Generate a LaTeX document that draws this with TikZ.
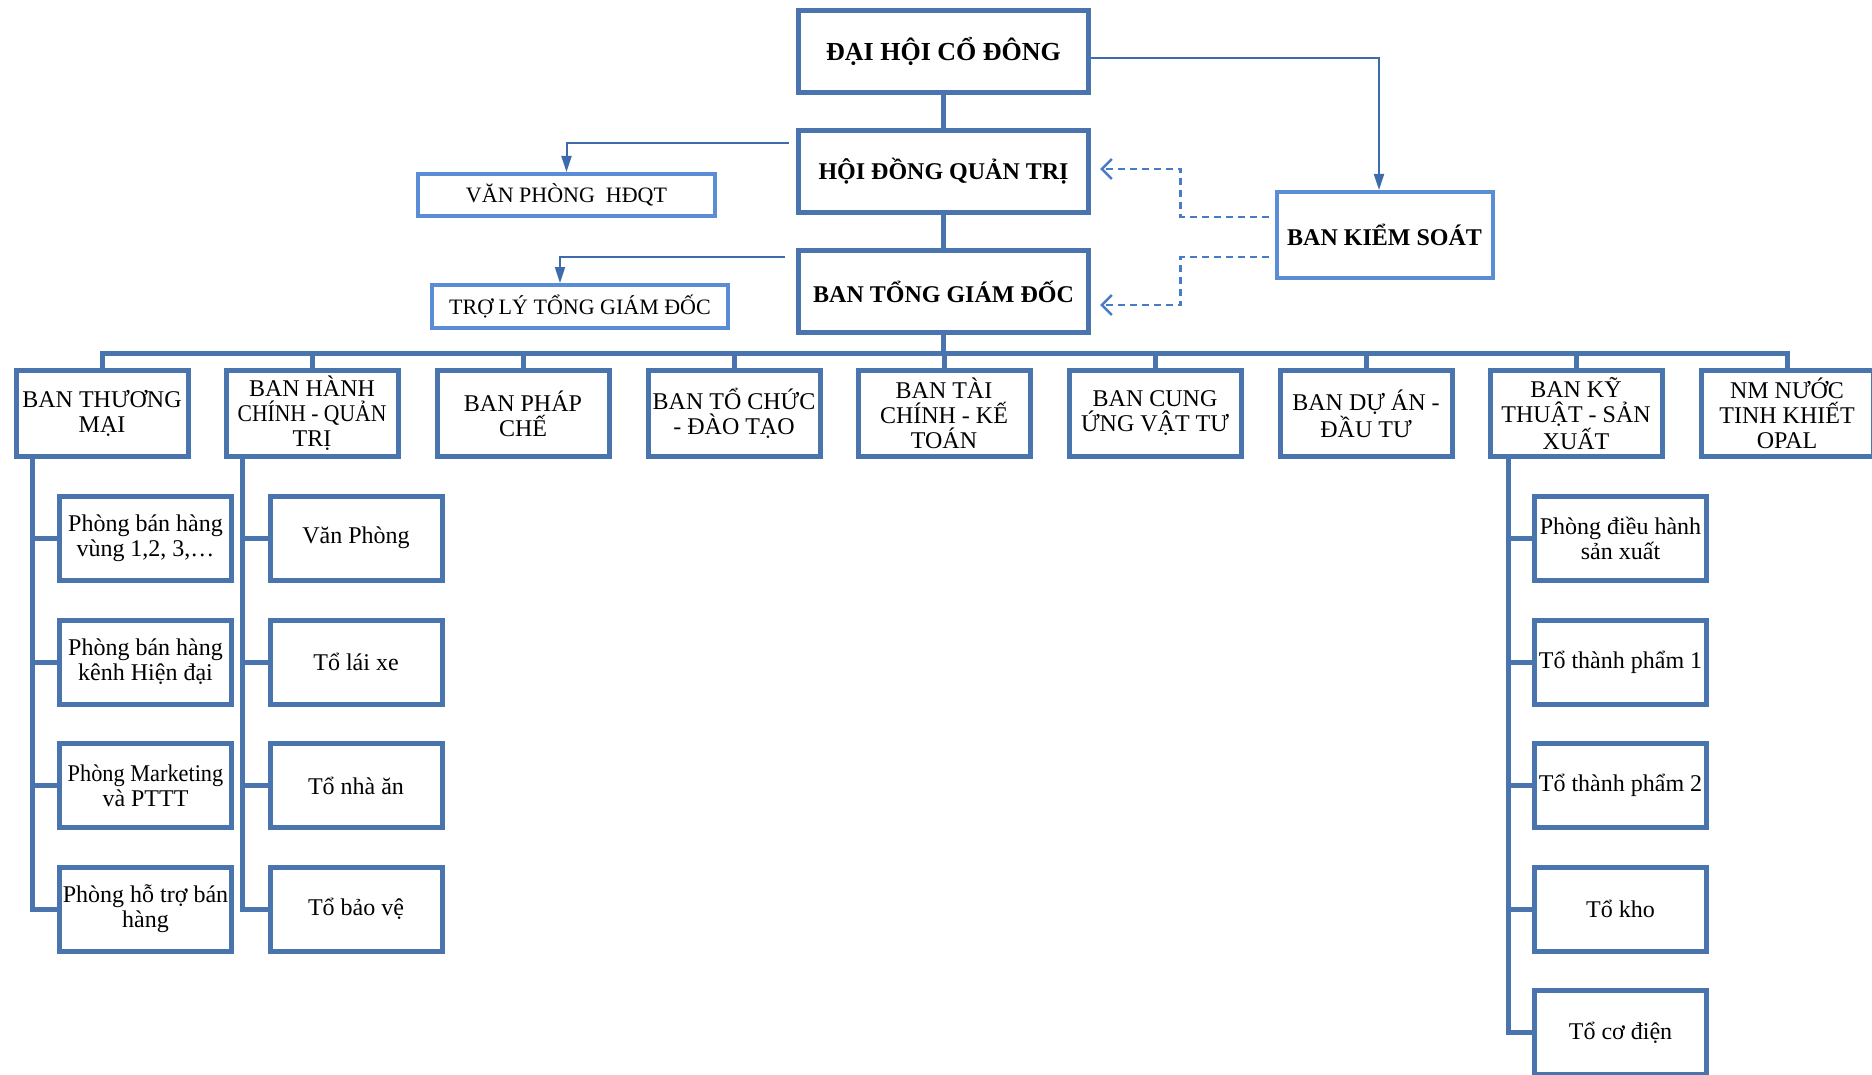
\documentclass[tikz,border=0pt]{standalone}
\usepackage{fontspec}
\setmainfont{Liberation Serif}
\usepackage{graphicx}
\usetikzlibrary{arrows.meta,calc}
\definecolor{dk}{HTML}{4A74AE}
\definecolor{lt}{HTML}{5B8DD6}
\definecolor{ar}{HTML}{3E6BAC}
\definecolor{ds}{HTML}{4A7CC6}
\begin{document}
\begin{tikzpicture}[x=0.5pt,y=-0.5pt,
 topbox/.style={draw=dk,line width=2.5pt,minimum width=145pt,minimum height=41pt,inner sep=0pt,font=\bfseries\fontsize{12}{14}\selectfont},
 litebox/.style={draw=lt,line width=2pt,inner sep=0pt,font=\fontsize{11}{13}\selectfont},
 unitbox/.style={draw=dk,line width=2.5pt,minimum width=86pt,minimum height=43pt,inner sep=0pt,align=center,font=\fontsize{12}{12.5}\selectfont},
 subbox/.style={unitbox,minimum height=42pt},
 trunk/.style={draw=dk,line width=2.5pt},
 thinarrow/.style={draw=ar,line width=1pt,-{Triangle[length=8pt,width=5pt]}},
 dasharrow/.style={draw=ds,line width=1.25pt,dash pattern=on 3.5pt off 2.5pt,-{Straight Barb[length=5pt,width=10pt]}}]
\fill[white] (0,0) rectangle (1872,1075);
\useasboundingbox (0,0) rectangle (1872,1075);
% top
\node[topbox,font=\bfseries\fontsize{13}{15}\selectfont] (dh) at (943.5,51.5) {ĐẠI HỘI CỔ ĐÔNG};
\node[topbox] (hd) at (943.5,171.5) {HỘI ĐỒNG QUẢN TRỊ};
\node[topbox] (bt) at (943.5,291.5) {BAN TỔNG GIÁM ĐỐC};
\node[litebox,minimum width=148.5pt,minimum height=21pt] (vp) at (566.5,195) {VĂN PHÒNG\ \ HĐQT};
\node[litebox,minimum width=148pt,minimum height=21.5pt] (tl) at (580,306.5) {TRỢ LÝ TỔNG GIÁM ĐỐC};
\node[litebox,font=\bfseries\fontsize{12}{14}\selectfont,minimum width=108pt,minimum height=43pt] (bks) at (1384.5,235) {BAN KIỂM SOÁT};
\draw[trunk] (dh.south) -- (hd.north);
\draw[trunk] (hd.south) -- (bt.north);
\draw[thinarrow] ([yshift=-3.25pt]dh.east) -| ([xshift=-2.75pt]bks.north);
\draw[thinarrow] ([xshift=-3.75pt,yshift=14.25pt]hd.west) -| (vp.north);
\draw[thinarrow] ([xshift=-5.75pt,yshift=17.25pt]bt.west) -| ([xshift=-10pt]tl.north);
\draw[dasharrow] ([xshift=-3pt,yshift=9pt]bks.west) -- ++(-88,0) |- ([xshift=4.5pt,yshift=1.25pt]hd.east);
\draw[dasharrow] ([xshift=-3pt,yshift=-11pt]bks.west) -- ++(-88,0) |- ([xshift=4.5pt,yshift=-6.75pt]bt.east);
% units
\node[unitbox] (u1) at (102,413.5) {BAN THƯƠNG\\MẠI};
\node[unitbox] (u2) at (312,413.5) {BAN HÀNH\\\scalebox{0.9}[1]{CHÍNH - QUẢN}\\TRỊ};
\node[unitbox] (u3) at (523,413.5) {BAN PHÁP\\CHẾ};
\node[unitbox] (u4) at (734,413.5) {BAN TỔ CHỨC\\- ĐÀO TẠO};
\node[unitbox] (u5) at (944,413.5) {BAN TÀI\\CHÍNH - KẾ\\TOÁN};
\node[unitbox] (u6) at (1155,413.5) {BAN CUNG\\ỨNG VẬT TƯ};
\node[unitbox] (u7) at (1366,413.5) {BAN DỰ ÁN -\\ĐẦU TƯ};
\node[unitbox] (u8) at (1576,413.5) {BAN KỸ\\THUẬT - SẢN\\XUẤT};
\node[unitbox] (u9) at (1787,413.5) {NM NƯỚC\\TINH KHIẾT\\OPAL};
\coordinate (busc) at (943.5,353);
\draw[trunk] (bt.south) -- (busc);
\foreach \u in {u1,u2,u3,u4,u5,u6,u7,u8,u9}{\draw[trunk] (busc) -| (\u.north);}
% sub boxes column 1
\node[subbox] (a1) at (145.5,538) {Phòng bán hàng\\vùng 1,2, 3,…};
\node[subbox] (a2) at (145.5,662) {Phòng bán hàng\\kênh Hiện đại};
\node[subbox] (a3) at (145.5,785.5) {\scalebox{0.93}[1]{Phòng Marketing}\\và PTTT};
\node[subbox] (a4) at (145.5,909) {Phòng hỗ trợ bán\\hàng};
% column 2
\node[subbox] (b1) at (356,538) {Văn Phòng};
\node[subbox] (b2) at (356,662) {Tổ lái xe};
\node[subbox] (b3) at (356,785.5) {Tổ nhà ăn};
\node[subbox] (b4) at (356,909) {Tổ bảo vệ};
% column 3
\node[subbox] (c1) at (1620.5,538) {Phòng điều hành\\sản xuất};
\node[subbox] (c2) at (1620.5,662) {Tổ thành phẩm 1};
\node[subbox] (c3) at (1620.5,785.5) {Tổ thành phẩm 2};
\node[subbox] (c4) at (1620.5,909) {Tổ kho};
\node[subbox] (c5) at (1620.5,1032.5) {Tổ cơ điện};
\foreach \s in {a1,a2,a3,a4}{\draw[trunk] ([xshift=9.25pt]u1.south west) |- (\s.west);}
\foreach \s in {b1,b2,b3,b4}{\draw[trunk] ([xshift=9.25pt]u2.south west) |- (\s.west);}
\foreach \s in {c1,c2,c3,c4,c5}{\draw[trunk] ([xshift=10.25pt]u8.south west) |- (\s.west);}
\end{tikzpicture}
\end{document}
